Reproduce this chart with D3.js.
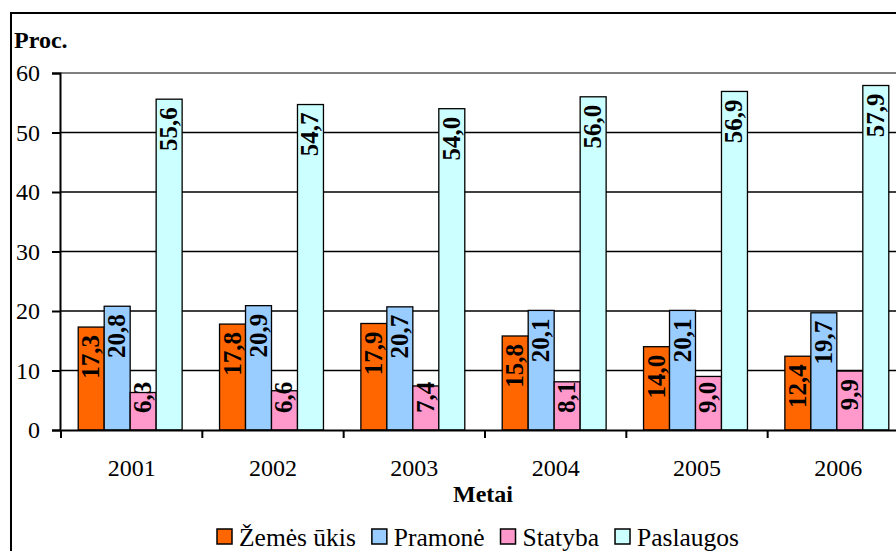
<!DOCTYPE html>
<html>
<head>
<meta charset="utf-8">
<script src="https://cdn.jsdelivr.net/npm/d3@7.9.0/dist/d3.min.js"></script>
<style>
  body { margin: 0; background: #fff; }
  svg, svg text { font-family: "Liberation Serif", "DejaVu Serif", serif; }
  .serif { font-family: "Liberation Serif"; }
</style>
</head>
<body>
<div id="chart"></div>
<script>
const years = ['2001', '2002', '2003', '2004', '2005', '2006'];
const series = ['Žemės ūkis', 'Pramonė', 'Statyba', 'Paslaugos'];
const zemesUkis = [17.3, 17.8, 17.9, 15.8, 14.0, 12.4];
const pramone = [20.8, 20.9, 20.7, 20.1, 20.1, 19.7];
const statyba = [6.3, 6.6, 7.4, 8.1, 9.0, 9.9];
const paslaugos = [55.6, 54.7, 54.0, 56.0, 56.9, 57.9];
const yTicks = [0, 10, 20, 30, 40, 50, 60];
const colors = ['#ff6600', '#99ccff', '#ff99cc', '#ccffff'];

const values = [zemesUkis, pramone, statyba, paslaugos];
const rows = [];
years.forEach((yr, i) => {
  series.forEach((s, j) => rows.push({ year: yr, series: s, value: values[j][i], idx: j }));
});

const width = 896;
const height = 551;
const plot = { left: 60, top: 73, bottom: 430, right: 909 };

const svg = d3.select('#chart').append('svg')
  .attr('width', width)
  .attr('height', height);

// outer chart frame (runs off the right/bottom edge like the source)
svg.append('rect')
  .attr('x', 11).attr('y', 13)
  .attr('width', 1000).attr('height', 600)
  .attr('fill', 'none')
  .attr('stroke', '#000')
  .attr('stroke-width', 2);

const x = d3.scaleBand().domain(years).range([plot.left + 1, plot.right]);
const xInner = d3.scaleBand().domain(series).range([0, x.bandwidth()])
  .paddingInner(0).paddingOuter(0.72);
const y = d3.scaleLinear().domain([0, 60]).range([plot.bottom, plot.top]);
const color = d3.scaleOrdinal().domain(series).range(colors);

// gridlines
svg.append('g')
  .selectAll('line')
  .data(yTicks.filter(d => d > 0))
  .join('line')
  .attr('x1', plot.left).attr('x2', width)
  .attr('y1', d => y(d)).attr('y2', d => y(d))
  .attr('stroke', d => d === 60 ? '#808080' : '#000')
  .attr('stroke-width', d => d === 60 ? 2 : 1.3);

// bars
svg.append('g')
  .selectAll('rect')
  .data(rows)
  .join('rect')
  .attr('x', d => x(d.year) + xInner(d.series) - 1.5)
  .attr('y', d => y(d.value))
  .attr('width', xInner.bandwidth())
  .attr('height', d => y(0) - y(d.value))
  .attr('fill', d => color(d.series))
  .attr('stroke', '#000')
  .attr('stroke-width', 1.3);

// y axis
const yAxis = svg.append('g')
  .attr('transform', `translate(${plot.left},0)`)
  .call(d3.axisLeft(y).tickValues(yTicks).tickSize(8).tickPadding(12));
yAxis.select('.domain').attr('stroke-width', 2);
yAxis.selectAll('.tick line').attr('stroke-width', 2);

// x axis
const xAxis = svg.append('g')
  .attr('transform', `translate(0,${plot.bottom})`)
  .call(d3.axisBottom(x).tickSize(0).tickSizeOuter(0));
xAxis.select('.domain').attr('stroke-width', 2.2);
xAxis.selectAll('text').attr('y', 46).attr('dy', null);
xAxis.selectAll('.sep')
  .data(years.map(d => x(d)).concat([x.range()[1]]))
  .join('line')
  .attr('class', 'sep')
  .attr('x1', d => d).attr('x2', d => d)
  .attr('y1', 0).attr('y2', 8)
  .attr('stroke', '#000')
  .attr('stroke-width', 2);

[yAxis, xAxis].forEach(ax => {
  ax.attr('font-family', null).attr('font-size', null);
  ax.selectAll('text')
    .attr('class', 'serif')
    .style('font-family', '"Liberation Serif"')
    .style('font-size', '24px')
    .attr('fill', '#000');
});

// value labels
const fmt = v => d3.format('.1f')(v).replace('.', ',');
svg.append('g')
  .selectAll('text')
  .data(rows)
  .join('text')
  .attr('class', 'serif')
  .attr('font-weight', 'bold')
  .attr('font-size', 25)
  .attr('text-anchor', 'end')
  .text(d => fmt(d.value))
  .each(function (d) {
    const len = this.getComputedTextLength();
    const top = Math.min(y(d.value) + 8, y(0) - 17 - len);
    const cx = x(d.year) + xInner(d.series) - 1.5 + xInner.bandwidth() / 2 + 8;
    d3.select(this).attr('transform', `translate(${cx},${top}) rotate(-90)`);
  });

// titles
svg.append('text')
  .attr('class', 'serif')
  .attr('x', 14).attr('y', 48)
  .attr('font-weight', 'bold').attr('font-size', 24)
  .text('Proc.');

svg.append('text')
  .attr('class', 'serif')
  .attr('x', 483).attr('y', 502)
  .attr('text-anchor', 'middle')
  .attr('font-weight', 'bold').attr('font-size', 24)
  .text('Metai');

// legend
const legend = svg.append('g').attr('transform', 'translate(217,529)');
let lx = 0;
series.forEach(s => {
  const g = legend.append('g').attr('transform', `translate(${lx},0)`);
  g.append('rect')
    .attr('width', 15).attr('height', 15)
    .attr('fill', color(s))
    .attr('stroke', '#000').attr('stroke-width', 1.5);
  const t = g.append('text')
    .attr('class', 'serif')
    .style('font-family', '"Liberation Serif"')
    .attr('x', 22).attr('y', 17)
    .attr('font-size', 25.5)
    .text(s);
  lx += 22 + t.node().getComputedTextLength() + 16;
});
</script>
</body>
</html>
